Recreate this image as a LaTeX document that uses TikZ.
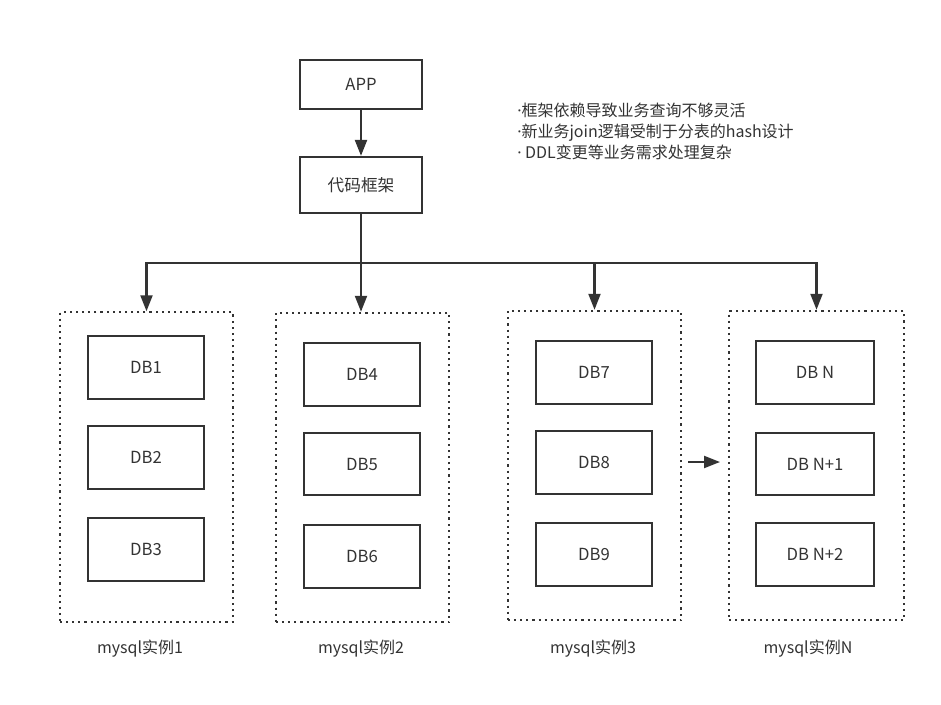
\documentclass[tikz,border=0pt]{standalone}
\usepackage{fontspec}
\setmainfont{Noto Sans CJK SC}
\newfontfamily\latinfont{Noto Sans}
\usetikzlibrary{arrows.meta, positioning}

\newcommand{\dotmark}{{\latinfont ·}}

\begin{document}
\begin{tikzpicture}[x=0.75pt, y=-0.75pt, font=\fontsize{12}{14}\selectfont, text=black!80]
\tikzstyle{block} = [rectangle, draw=black!80, line width=1.7pt, minimum width=87pt, minimum height=47pt, inner sep=0pt, font=\fontsize{12.5}{14}\selectfont]
\tikzstyle{group} = [rectangle, draw=black!80, line width=1.6pt, dash pattern=on 1.6pt off 3pt, minimum width=130pt, minimum height=232pt, inner sep=0pt]
\tikzstyle{line} = [draw=black!80, line width=1.6pt, -{Triangle[length=12pt, width=9pt]}]

\useasboundingbox (0,0) rectangle (941,704);

\node [block, minimum width=92pt, minimum height=37pt] (app) at (361,84.5) {APP};
\node [block, minimum width=92pt, minimum height=42pt] (frame) at (361,185) {代码框架};

\node [anchor=north west, align=left, inner sep=0pt, font=\fontsize{12}{15.75}\selectfont] (notes) at (517,103)
  {\dotmark 框架依赖导致业务查询不够灵活\\\dotmark 新业务join逻辑受制于分表的hash设计\\\dotmark\ DDL变更等业务需求处理复杂};

% mysql instances
\node [group] (g1) at (146.5,467) {};
\node [group] (g2) at (362.5,467.5) {};
\node [group] (g3) at (594.5,465.5) {};
\node [group, minimum width=131pt] (gN) at (816.5,465.5) {};

\node [block] (db1) at (146,367.5) {DB1};
\node [block] (db2) at (146,457.5) {DB2};
\node [block] (db3) at (146,549.5) {DB3};
\node [block] (db4) at (362,374.5) {DB4};
\node [block] (db5) at (362,464) {DB5};
\node [block] (db6) at (362,556.5) {DB6};
\node [block] (db7) at (594,372.5) {DB7};
\node [block] (db8) at (594,462.5) {DB8};
\node [block] (db9) at (594,554.5) {DB9};
\node [block, minimum width=88pt] (dbn) at (815,372.5) {DB N};
\node [block, minimum width=88pt] (dbn1) at (815,464) {DB N+1};
\node [block, minimum width=88pt] (dbn2) at (815,554.5) {DB N+2};

\node (l1) at (140,649) {mysql实例1};
\node (l2) at (361,649) {mysql实例2};
\node (l3) at (593,649) {mysql实例3};
\node (lN) at (808,649) {mysql实例N};

\coordinate (split) at (361,263);
\coordinate (gap) at (688,462);

\draw [line] (app) -- (frame);
\draw [draw=black!80, line width=1.6pt] (frame.south) -- (split);
\draw [line] (split) -| (g1.north);
\draw [line] (split) -- (g2.north -| split);
\draw [line] (split) -| (g3.north);
\draw [line] (split) -| (gN.north);
\draw [line] (gap) -- ++(32,0);

\end{tikzpicture}
\end{document}
